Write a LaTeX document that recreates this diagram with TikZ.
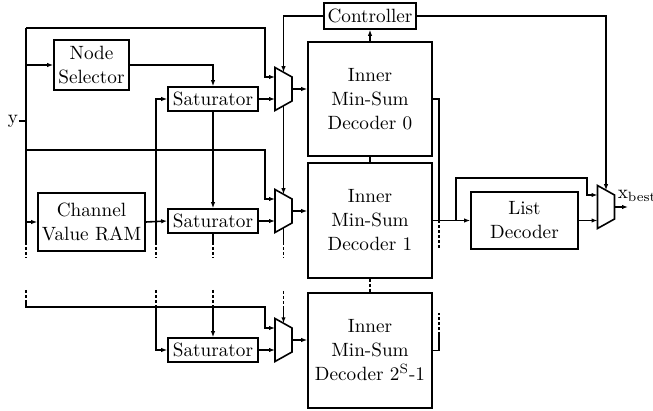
\documentclass[tikz,border=0pt]{standalone}
\usepackage{fontspec}
\usetikzlibrary{arrows.meta}

% multiplexer: trapezoid with wide side left, plus its ports
\newcommand{\drawmux}[3]{%
  \draw (#2-8.5,#3-21.5) -- (#2+8.5,#3-12) -- (#2+8.5,#3+12)
    -- (#2-8.5,#3+21.5) -- cycle;
  \coordinate (#1w) at (#2-8.5,#3);
  \coordinate (#1a) at (#2-8.5,#3-12);
  \coordinate (#1e) at (#2+8.5,#3);
  \coordinate (#1n) at (#2,#3-16.75);
  \coordinate (#1s) at (#2,#3+16.75);
}

\begin{document}
\begin{tikzpicture}[x=.5pt,y=-.5pt,>={Latex[length=3pt,width=2.2pt]},
  font=\fontsize{9.6}{12}\selectfont,
  every node/.style={inner sep=0pt},
  box/.style={draw,align=center},
  sat/.style={box,minimum width=45pt,minimum height=12pt},
  dec/.style={box,minimum width=62pt,minimum height=57.25pt},
  cont/.style={dash pattern=on 1.5pt off 1pt},
  line width=.8pt]
\path[use as bounding box] (0,0) rectangle (653,411);

% left column
\node (yin) at (13,121) {y};
\coordinate (bus) at (26,122);
\coordinate (btop) at (26,28);
\node[box,minimum width=37.5pt,minimum height=25pt] (nsel) at (91.5,65)
  {Node\\Selector};
\node[box,minimum width=53.5pt,minimum height=29pt] (ram) at (91.5,222)
  {Channel\\Value RAM};

\node[sat] (sat1) at (213,99) {Saturator};
\node[sat] (sat2) at (213,221) {Saturator};
\node[sat] (sat3) at (213,350) {Saturator};

\drawmux{mux1}{283.5}{89}
\drawmux{mux2}{283.5}{211}
\drawmux{mux3}{283.5}{340}

% decoders
\node[box,minimum width=46pt,minimum height=13pt] (ctrl) at (370,16) {Controller};
\node[dec] (dec0) at (370,99) {Inner\\Min-Sum\\Decoder 0};
\node[dec] (dec1) at (370,220.5) {Inner\\Min-Sum\\Decoder 1};
\node[dec] (dec2) at (370,350.5) {Inner\\Min-Sum\\Decoder 2\textsuperscript{S}-1};
\node[box,minimum width=53.5pt,minimum height=28.5pt] (list) at (524.5,220.5)
  {List\\Decoder};
\drawmux{mux4}{606}{207}
\node[anchor=base west] (xbest) at (617,199) {x\textsubscript{best}};
\coordinate (xout) at (628,207);

% input bus
\draw (yin.east) -- (yin.east -| bus);
\draw (btop) -- (26,242);
\draw[cont] (26,242) -- (26,258);
\draw[cont] (26,290) -- (26,300);
\draw[->] (26,300) -- (26,307) -- (265,307) |- (mux3a);
\draw[->] (btop) -- (265,28) |- (mux1a);
\draw[->] (bus |- 0,150) -- (265,150) |- (mux2a);
\draw[->] (bus |- nsel) -- (nsel.west);
\draw[->] (bus |- ram) -- (ram.west);

% saturators
\draw[->] (nsel.east) -| (sat1.north);
\draw[->] (sat1.south) -- (sat2.north);
\draw (sat2.south) -- (213,242);
\draw[cont] (213,242) -- (213,258);
\draw[cont] (213,290) -- (213,307);
\draw[->] (213,307) -- (sat3.north);
\draw[->] (ram.east) -- (sat2.west);
\draw[->] (156,242) |- (sat1.west);
\draw[cont] (156,242) -- (156,258);
\draw[cont] (156,290) -- (156,305);
\draw[->] (156,305) |- (sat3.west);
\draw[->] (sat1.east) -- (sat1.east -| mux1w);
\draw[->] (sat2.east) -- (sat2.east -| mux2w);
\draw[->] (sat3.east) -- (sat3.east -| mux3w);

% select lines
\draw[->] (ctrl.west) -| (mux1n);
\draw[->] (mux1s) -- (mux2n);
\draw (mux2s) -- (283.5,242);
\draw[cont] (283.5,242) -- (283.5,258);
\draw[cont] (283.5,291) -- (283.5,307);
\draw[->] (283.5,307) -- (mux3n);

\draw[->] (mux1e) -- (mux1e -| dec0.west);
\draw[->] (mux2e) -- (mux2e -| dec1.west);
\draw[->] (mux3e) -- (mux3e -| dec2.west);

\draw[->] (dec0.north) -- (ctrl.south);
\draw (dec0.south) -- (dec1.north);
\draw[cont] (dec1.south) -- (dec2.north);

% outputs
\draw (dec0.east) -- (439,99) -- (439,220.5);
\draw[cont] (439,220.5) -- (439,249);
\draw (dec2.east) -| (439,335);
\draw[cont] (439,335) -- (439,313);
\draw[->] (dec1.east) -- (list.west);
\draw[->] (456,220.5) |- (587,178) |- (mux4a);
\draw[->] (list.east) -- (list.east -| mux4w);
\draw[->] (ctrl.east) -| (mux4n);
\draw[->] (mux4e) -- (xout);
\end{tikzpicture}
\end{document}
